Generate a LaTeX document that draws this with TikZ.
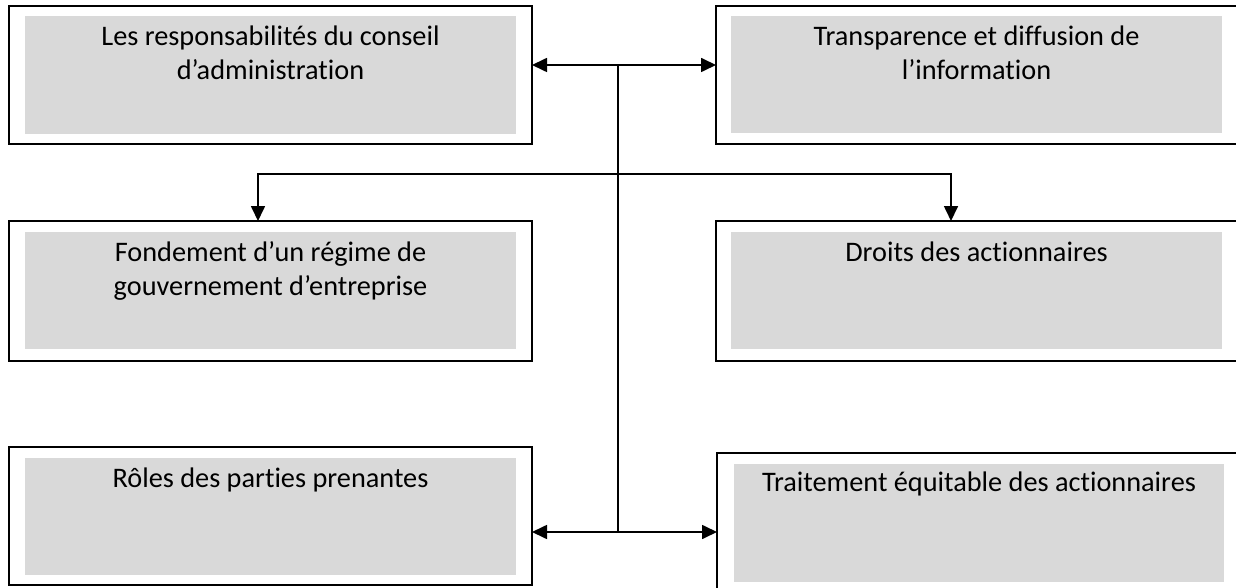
\documentclass[tikz,border=0pt]{standalone}
\usepackage{fontspec}
\setmainfont{Carlito}[Ligatures={NoCommon,NoContextual}]
\usetikzlibrary{arrows.meta,calc}
\definecolor{boxgray}{HTML}{D9D9D9}
\begin{document}
\begin{tikzpicture}[x=1pt,y=-1pt,
  outerbox/.style={draw=black, fill=white, line width=1.7pt, anchor=north west, inner sep=0pt, outer sep=0pt},
  graybox/.style={draw=none, fill=boxgray, anchor=north west, inner sep=0pt, outer sep=0pt},
  txt/.style={anchor=north, inner sep=0pt, align=center, text=black, font=\fontsize{28.3}{34.5}\selectfont},
  conn/.style={draw=black, line width=1.7pt},
  tips/.style={{Triangle[length=15pt,width=14pt]}-{Triangle[length=15pt,width=14pt]}}]
\useasboundingbox (0,0) rectangle (1236,588);
% boxes
\node[outerbox, minimum width=523pt, minimum height=138pt] (tl) at (9,6) {};
\node[graybox, minimum width=491pt, minimum height=118pt] (tlg) at (25,16) {};
\node[outerbox, minimum width=523pt, minimum height=138pt] (tr) at (716,6) {};
\node[graybox, minimum width=491pt, minimum height=117pt] (trg) at (731,16) {};
\node[outerbox, minimum width=523pt, minimum height=140pt] (ml) at (9,221) {};
\node[graybox, minimum width=491pt, minimum height=117pt] (mlg) at (25,232) {};
\node[outerbox, minimum width=523pt, minimum height=140pt] (mr) at (716,221) {};
\node[graybox, minimum width=491pt, minimum height=117pt] (mrg) at (731,232) {};
\node[outerbox, minimum width=523pt, minimum height=138pt] (bl) at (9,447) {};
\node[graybox, minimum width=491pt, minimum height=117pt] (blg) at (25,458) {};
\node[outerbox, minimum width=523pt, minimum height=140pt] (br) at (717,453) {};
\node[graybox, minimum width=490pt, minimum height=118pt] (brg) at (734,464) {};
% texts
\node[txt] (tlt) at ($(tlg.north)+(0,5)$) {\strut Les responsabilités du conseil\\d’administration};
\node[txt] (trt) at ($(trg.north)+(0,5)$) {\strut Transparence et diffusion de\\l’information};
\node[txt] (mlt) at ($(mlg.north)+(0,5)$) {\strut Fondement d’un régime de\\gouvernement d’entreprise};
\node[txt] (mrt) at ($(mrg.north)+(0,5)$) {\strut Droits des actionnaires};
\node[txt] (blt) at ($(blg.north)+(0,5)$) {\strut Rôles des parties prenantes};
\node[txt] (brt) at ($(brg.north)+(0,3)$) {\strut Traitement équitable des actionnaires};
% connectors
\coordinate (hub) at (618,65);
\coordinate (bot) at (618,532);
\coordinate (midL) at (258,174);
\coordinate (midR) at (951,174);
\draw[conn, tips] (tl.east |- hub) -- (tr.west |- hub);
\draw[conn] (hub) -- (bot);
\draw[conn, tips] (bl.east |- bot) -- (br.west |- bot);
\draw[conn, tips] (midL |- ml.north) -- (midL) -- (midR) -- (midR |- mr.north);
\end{tikzpicture}
\end{document}
